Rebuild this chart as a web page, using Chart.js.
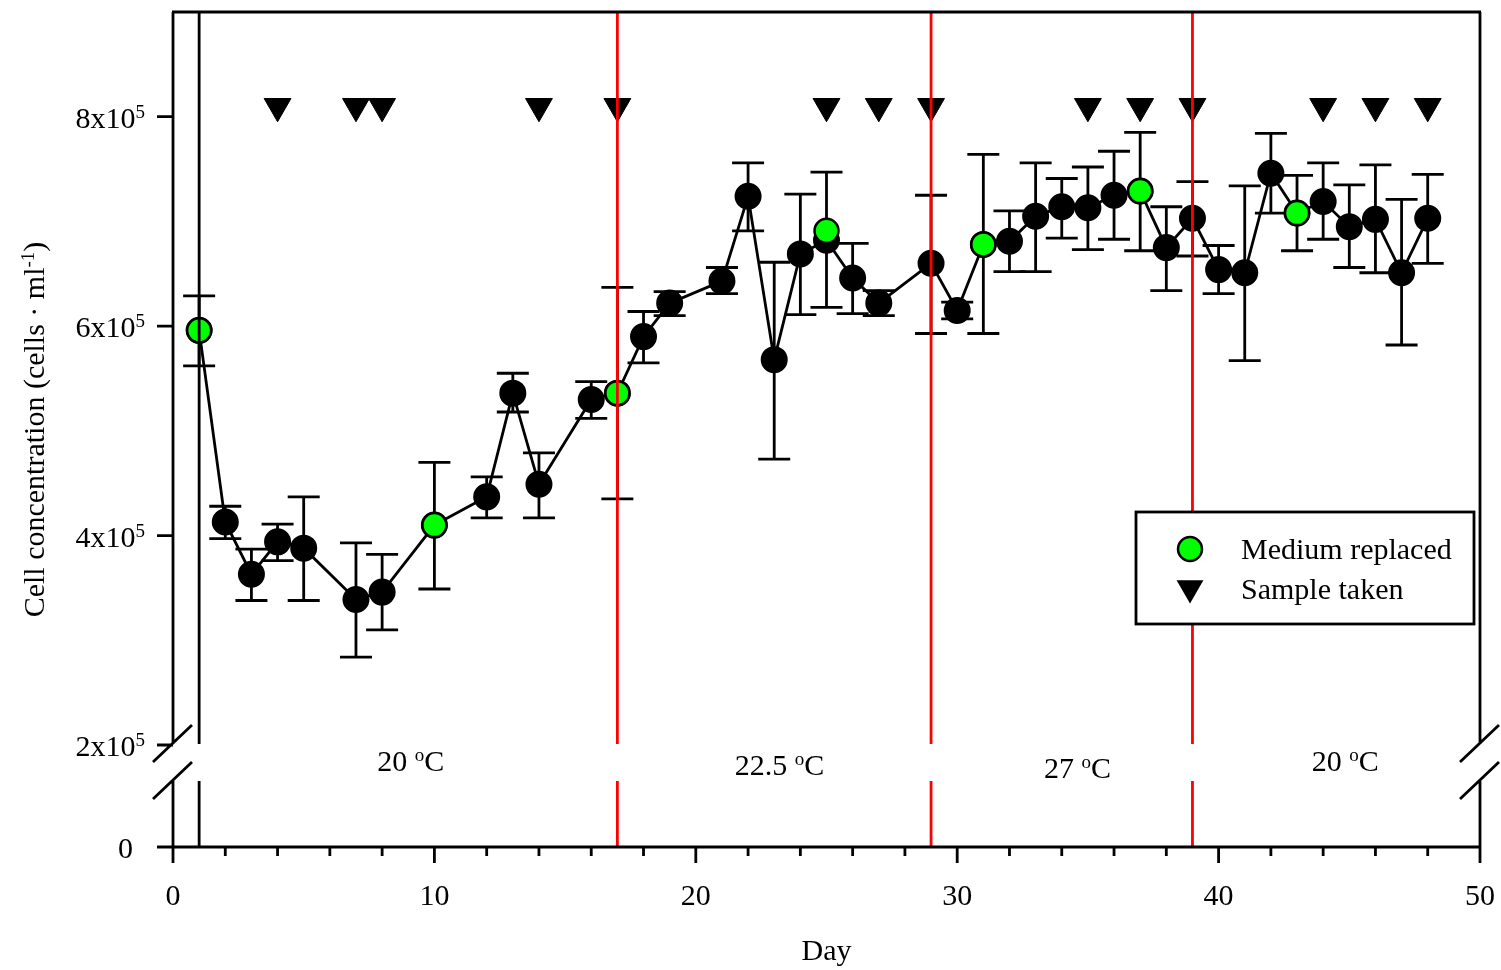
<!DOCTYPE html>
<html>
<head>
<meta charset="utf-8">
<title>Cell concentration</title>
<script src="https://cdn.jsdelivr.net/npm/chart.js"></script>
<style>
  html, body { margin: 0; padding: 0; background: #fff; }
  canvas { display: block; }
</style>
</head>
<body>
<canvas id="chart" width="1501" height="970"></canvas>
<script>
// Data (cells per ml)
const days = [1, 2, 3, 4, 5, 7, 8, 10, 12, 13, 14, 16, 17, 18, 19, 21, 22, 23, 24, 25, 26,
              27, 29, 30, 31, 32, 33, 34, 35, 36, 37, 38, 39, 40, 41, 42, 43, 44, 45, 46, 47, 48];
const meanCells = [596000, 413000, 363000, 394000, 388000, 339000, 346000, 410000, 437000, 536000, 449000,
                   530000, 536000, 590000, 622000, 643000, 724000, 568000, 669000, 682000, 646000,
                   622000, 660000, 615000, 678000, 681000, 705000, 714000, 713000, 725000, 729000,
                   675000, 703000, 654000, 651000, 746000, 708000, 719000, 695000, 702000, 651000, 703000];
const upperCells = [629000, 428000, 387000, 411000, 437000, 393000, 382000, 470000, 456000, 555000, 479000,
                    547000, 637000, 614000, 633000, 656000, 756000, 661000, 726000, 747000, 679000,
                    634000, 725000, 623000, 764000, 710000, 756000, 741000, 752000, 767000, 785000,
                    714000, 738000, 677000, 734000, 784000, 744000, 756000, 735000, 754000, 721000, 745000];
const lowerCells = [562000, 397000, 338000, 376000, 338000, 284000, 310000, 349000, 417000, 518000, 417000,
                    512000, 435000, 565000, 610000, 631000, 691000, 473000, 611000, 618000, 612000,
                    610000, 593000, 607000, 593000, 652000, 652000, 684000, 673000, 683000, 672000,
                    634000, 667000, 631000, 567000, 708000, 672000, 683000, 656000, 651000, 582000, 660000];

const replacedDays = [1, 10, 17, 25, 31, 37, 43];
const replacedCells = [596000, 410000, 536000, 691000, 678000, 729000, 708000];

const sampleDays = [4, 7, 8, 14, 17, 25, 27, 29, 35, 37, 39, 44, 46, 48];
const sampleLevel = 810000;

const startDay = 1;
const changeDays = [17, 29, 39];
const tempLabels = ['20', '22.5', '27', '20'];
const tempDays = [9.1, 23.2, 34.6, 44.85];

const xTicks = [0, 10, 20, 30, 40, 50];
const yTicks = [200000, 400000, 600000, 800000];
const yTickLabels = [['2x10', '5'], ['4x10', '5'], ['6x10', '5'], ['8x10', '5']];

// layout
const SERIF = "'Liberation Serif', 'Times New Roman', serif";
const Y_MIN = 102600;   // bottom of the broken axis, shown as 0
const Y_MAX = 900000;
const GAP_BELOW = 66;   // axis resumes this far above the bottom
const LW = 2.8;
const tempBaseline = [771, 775, 778, 771];

function richText(ctx, parts, x, y, align) {
    let w = 0;
    parts.forEach(p => {
        ctx.font = (p[1] ? 19 : 30) + 'px ' + SERIF;
        w += ctx.measureText(p[0]).width;
    });
    let cx = align === 'center' ? x - w / 2 : align === 'right' ? x - w : x;
    ctx.textAlign = 'left';
    ctx.textBaseline = 'alphabetic';
    parts.forEach(p => {
        ctx.font = (p[1] ? 19 : 30) + 'px ' + SERIF;
        ctx.fillText(p[0], cx, p[1] ? y - 10 : y);
        cx += ctx.measureText(p[0]).width;
    });
}

const figurePlugin = {
    id: 'figure',
    beforeDatasetsDraw(chart) {
        // error bars
        const ctx = chart.ctx, xs = chart.scales.x, ys = chart.scales.y;
        ctx.save();
        ctx.strokeStyle = '#000';
        ctx.lineWidth = LW;
        days.forEach((d, i) => {
            const x = xs.getPixelForValue(d);
            const t = ys.getPixelForValue(upperCells[i]);
            const b = ys.getPixelForValue(lowerCells[i]);
            ctx.beginPath();
            ctx.moveTo(x, t); ctx.lineTo(x, b);
            ctx.moveTo(x - 16, t); ctx.lineTo(x + 16, t);
            ctx.moveTo(x - 16, b); ctx.lineTo(x + 16, b);
            ctx.stroke();
        });
        ctx.restore();
    },
    afterDatasetsDraw(chart) {
        const ctx = chart.ctx, xs = chart.scales.x, ys = chart.scales.y;
        const a = chart.chartArea;
        const gapTop = ys.getPixelForValue(yTicks[0]) - 1;
        const gapBot = a.bottom - GAP_BELOW;
        ctx.save();
        ctx.lineWidth = LW;

        // day markers, broken like the axis
        const vline = (x, color) => {
            ctx.strokeStyle = color;
            ctx.beginPath();
            ctx.moveTo(x, a.top); ctx.lineTo(x, gapTop);
            ctx.moveTo(x, gapBot); ctx.lineTo(x, a.bottom);
            ctx.stroke();
        };
        vline(xs.getPixelForValue(startDay), '#000');
        changeDays.forEach(d => vline(xs.getPixelForValue(d), '#ff0000'));

        // frame
        ctx.strokeStyle = '#000';
        ctx.beginPath();
        ctx.moveTo(a.left - 1, a.top); ctx.lineTo(a.right + 1, a.top);
        ctx.moveTo(a.left - 16, a.bottom); ctx.lineTo(a.right + 1, a.bottom);
        [a.left, a.right].forEach(x => {
            ctx.moveTo(x, a.top); ctx.lineTo(x, gapTop);
            ctx.moveTo(x, gapBot); ctx.lineTo(x, a.bottom);
            // break marks
            ctx.moveTo(x - 20, gapTop + 18); ctx.lineTo(x + 19, gapTop - 19);
            ctx.moveTo(x - 20, gapBot + 18); ctx.lineTo(x + 19, gapBot - 19);
        });
        // x ticks
        for (let d = xs.min; d <= xs.max; d += 2) {
            const x = xs.getPixelForValue(d);
            ctx.moveTo(x, a.bottom);
            ctx.lineTo(x, a.bottom + (d % 10 === 0 ? 16 : 9));
        }
        // y ticks
        yTicks.forEach(v => {
            const y = ys.getPixelForValue(v);
            ctx.moveTo(a.left - 16, y); ctx.lineTo(a.left, y);
        });
        ctx.stroke();

        // tick labels
        ctx.fillStyle = '#000';
        xTicks.forEach(v => {
            richText(ctx, [[String(v), false]], xs.getPixelForValue(v), a.bottom + 58, 'center');
        });
        yTicks.forEach((v, i) => {
            const y = ys.getPixelForValue(v);
            richText(ctx, [[yTickLabels[i][0], false], [yTickLabels[i][1], true]], a.left - 28, y + 11, 'right');
        });
        richText(ctx, [['0', false]], a.left - 40, a.bottom + 11, 'right');

        // y axis title
        ctx.save();
        ctx.translate(44, (a.top + a.bottom) / 2);
        ctx.rotate(-Math.PI / 2);
        richText(ctx, [['Cell concentration (cells \u00b7 ml', false], ['-1', true], [')', false]], 0, 0, 'center');
        ctx.restore();

        // temperature labels
        tempLabels.forEach((t, i) => {
            richText(ctx, [[t + ' ', false], ['o', true], ['C', false]],
                xs.getPixelForValue(tempDays[i]), tempBaseline[i], 'center');
        });

        // legend
        const lx = 1136, ly = 512;
        ctx.strokeStyle = '#000';
        ctx.lineWidth = LW;
        ctx.fillStyle = '#fff';
        ctx.fillRect(lx, ly, 338, 112);
        ctx.strokeRect(lx, ly, 338, 112);
        ctx.beginPath();
        ctx.arc(lx + 54, ly + 37, 12, 0, Math.PI * 2);
        ctx.fillStyle = '#00ff00';
        ctx.fill();
        ctx.lineWidth = 2.5;
        ctx.stroke();
        const tx = lx + 54, ty = ly + 76, r = 15.5;
        ctx.beginPath();
        ctx.moveTo(tx, ty + r);
        ctx.lineTo(tx - r * Math.sin(Math.PI / 3), ty - r / 2);
        ctx.lineTo(tx + r * Math.sin(Math.PI / 3), ty - r / 2);
        ctx.closePath();
        ctx.fillStyle = '#000';
        ctx.fill();
        richText(ctx, [['Medium replaced', false]], lx + 105, ly + 47, 'left');
        richText(ctx, [['Sample taken', false]], lx + 105, ly + 87, 'left');
        ctx.restore();
    }
};

new Chart(document.getElementById('chart'), {
    type: 'line',
    data: {
        datasets: [
            {
                label: 'Medium replaced',
                data: replacedDays.map((d, i) => ({ x: d, y: replacedCells[i] })),
                showLine: false,
                pointRadius: 12,
                pointBackgroundColor: '#00ff00',
                pointBorderColor: '#000',
                pointBorderWidth: 2.5
            },
            {
                label: 'Sample taken',
                data: sampleDays.map(d => ({ x: d, y: sampleLevel })),
                showLine: false,
                pointStyle: 'triangle',
                rotation: 180,
                pointRadius: 15.5,
                pointBackgroundColor: '#000',
                pointBorderColor: '#000',
                pointBorderWidth: 1
            },
            {
                label: 'Cell concentration',
                data: days.map((d, i) => ({ x: d, y: meanCells[i] })),
                borderColor: '#000',
                borderWidth: 2.8,
                tension: 0,
                pointRadius: 12.5,
                pointBackgroundColor: '#000',
                pointBorderColor: '#000',
                pointBorderWidth: 2
            }
        ]
    },
    options: {
        responsive: false,
        animation: false,
        devicePixelRatio: 1,
        layout: { autoPadding: false, padding: { top: 12, right: 21, left: 0, bottom: 0 } },
        plugins: { legend: { display: false }, tooltip: { enabled: false } },
        scales: {
            x: {
                type: 'linear',
                min: 0,
                max: 50,
                grid: { display: false, drawTicks: false },
                border: { display: false },
                ticks: { display: false },
                title: { display: true, text: 'Day', color: '#000', font: { family: SERIF, size: 30 },
                         padding: { top: 0, bottom: 0 } },
                afterFit: s => { s.height = 123; }
            },
            y: {
                type: 'linear',
                min: Y_MIN,
                max: Y_MAX,
                grid: { display: false, drawTicks: false },
                border: { display: false },
                ticks: { display: false },
                afterFit: s => { s.width = 173; }
            }
        }
    },
    plugins: [figurePlugin]
});
</script>
</body>
</html>
